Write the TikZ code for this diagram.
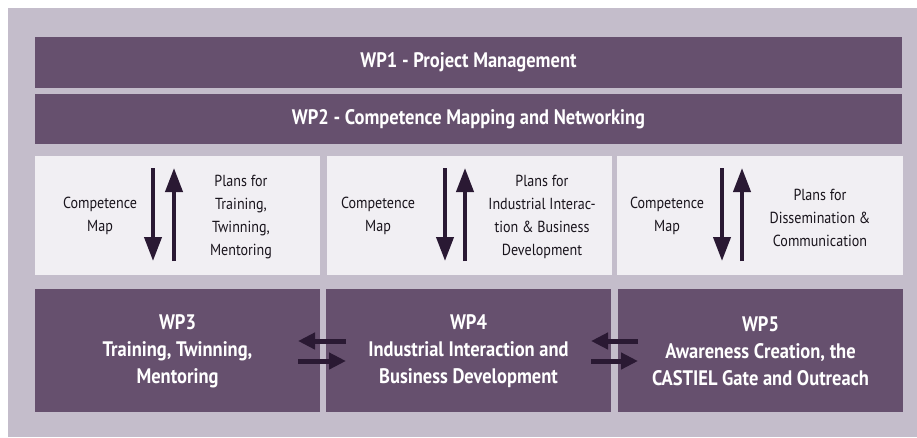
\documentclass[tikz,border=0pt]{standalone}
\usepackage{fontspec}
\setmainfont{PT Sans}[FakeStretch=0.88]
\usetikzlibrary{arrows.meta}
\definecolor{bgpanel}{HTML}{C4BDCB}
\definecolor{wpbar}{HTML}{66506E}
\definecolor{lightbox}{HTML}{F1EFF3}
\definecolor{arrowdark}{HTML}{2A1933}
\tikzset{
  barbox/.style={fill=wpbar, draw=none},
  midbox/.style={fill=lightbox, draw=none},
  bartext/.style={text=white, font=\bfseries\fontsize{21}{24}\selectfont, align=center},
  wptext/.style={text=white, font=\bfseries\fontsize{21}{27}\selectfont, align=center},
  midtext/.style={text=black!75!wpbar, font=\fontsize{16}{23}\selectfont, align=center},
  vflow/.style={draw=arrowdark, line width=4pt, -{Triangle[length=24pt,width=17pt]}},
  hflow/.style={draw=arrowdark, line width=5pt, -{Triangle[length=17pt,width=16pt]}}
}
\begin{document}
\begin{tikzpicture}[x=1pt,y=-1pt]
\useasboundingbox (0,0) rectangle (917,437);
\fill[white] (0,0) rectangle (917,437);
\fill[bgpanel] (8,8) rectangle (917,437);
% top bars
\fill[barbox] (35,37) rectangle (902,88);
\node[bartext] (wp1) at (468.5,62.5) {WP1 - Project Management};
\fill[barbox] (35,94) rectangle (902,144);
\node[bartext] (wp2) at (468.5,119) {WP2 - Competence Mapping and Networking};
% middle boxes
\fill[midbox] (35,156) rectangle (320,275);
\fill[midbox] (327,156) rectangle (612,275);
\fill[midbox] (617,156) rectangle (903,275);
\node[midtext] (cm1) at (100,216) {Competence\\Map};
\node[midtext] (pl1) at (241,217) {Plans for\\Training,\\Twinning,\\Mentoring};
\node[midtext] (cm2) at (378,216) {Competence\\Map};
\node[midtext] (pl2) at (542,217) {Plans for\\Industrial Interac-\\tion \& Business\\Development};
\node[midtext] (cm3) at (667,216) {Competence\\Map};
\node[midtext] (pl3) at (820,218) {Plans for\\Dissemination \&\\Communication};
\coordinate (d1s) at (153,168); \coordinate (d1e) at (153,261);
\coordinate (u1s) at (174,261); \coordinate (u1e) at (174,168);
\coordinate (d2s) at (445,168); \coordinate (d2e) at (445,261);
\coordinate (u2s) at (465,261); \coordinate (u2e) at (465,168);
\coordinate (d3s) at (722,168); \coordinate (d3e) at (722,261);
\coordinate (u3s) at (742,261); \coordinate (u3e) at (742,168);
\draw[vflow] (d1s) -- (d1e);
\draw[vflow] (u1s) -- (u1e);
\draw[vflow] (d2s) -- (d2e);
\draw[vflow] (u2s) -- (u2e);
\draw[vflow] (d3s) -- (d3e);
\draw[vflow] (u3s) -- (u3e);
% bottom boxes
\fill[barbox] (35,289) rectangle (320,412);
\fill[barbox] (326,289) rectangle (611,412);
\fill[barbox] (618,289) rectangle (903,412);
\node[wptext] (wp3) at (177.5,351) {WP3\\Training, Twinning,\\Mentoring};
\node[wptext] (wp4) at (468.5,351) {WP4\\Industrial Interaction and\\Business Development};
\node[wptext] (wp5) at (760.5,351) {WP5\\Awareness Creation, the\\CASTIEL Gate and Outreach};
\coordinate (a1r) at (346,341); \coordinate (a1l) at (298,341);
\coordinate (b1l) at (298,361); \coordinate (b1r) at (346,361);
\coordinate (a2r) at (638,341); \coordinate (a2l) at (591,341);
\coordinate (b2l) at (591,361); \coordinate (b2r) at (638,361);
\draw[hflow] (a1r) -- (a1l);
\draw[hflow] (b1l) -- (b1r);
\draw[hflow] (a2r) -- (a2l);
\draw[hflow] (b2l) -- (b2r);
\end{tikzpicture}
\end{document}
